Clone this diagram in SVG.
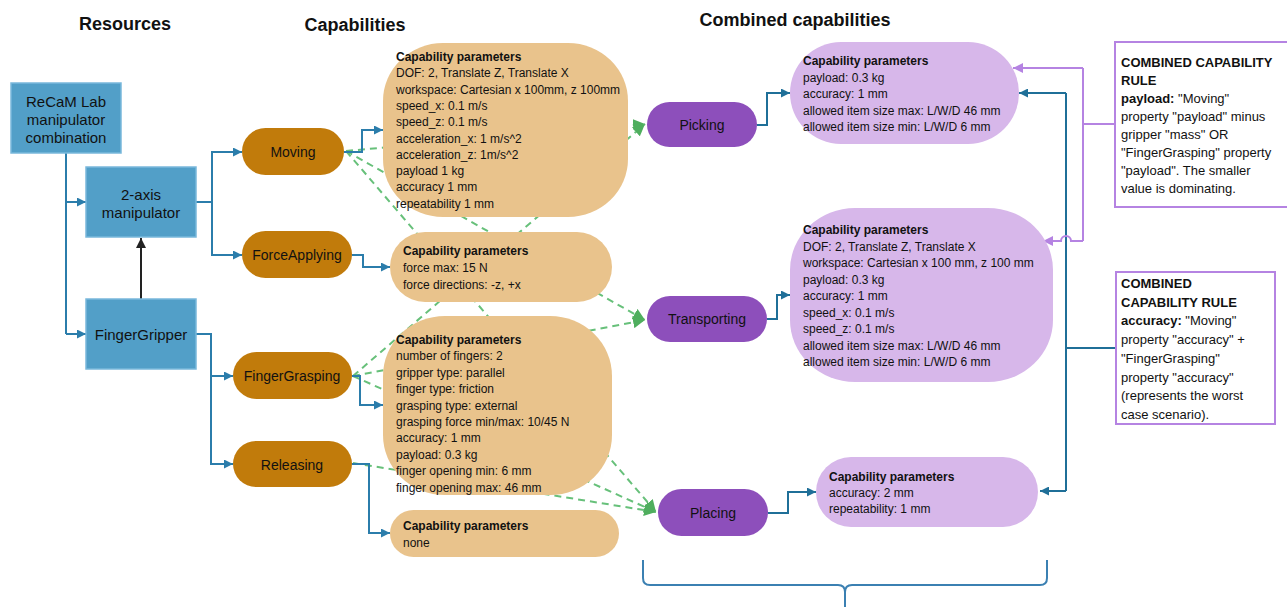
<svg xmlns="http://www.w3.org/2000/svg" width="1287" height="607" viewBox="0 0 1287 607">
<defs>
<style>
text{font-family:"Liberation Sans",Arial,sans-serif;fill:#111}
.title{font-size:18px;font-weight:bold}
.res{fill:#529fc8;stroke:#79b8db;stroke-width:1.5}
.rt{font-size:15px;text-anchor:middle}
.cap{fill:#c17b0b}
.ct{font-size:14px;text-anchor:middle}
.par{fill:#e9c38c}
.comb{fill:#8d4fbb}
.cpar{fill:#d7b7ea}
.pt{font-size:12px}
.hd{font-weight:bold}
.rule{fill:#fff;stroke:#b583e2;stroke-width:2}
.rl{font-size:13px}
.blue{fill:none;stroke:#2b7dab;stroke-width:2}
.teal{fill:none;stroke:#1f6f98;stroke-width:2}
.green{fill:none;stroke:#67c07a;stroke-width:2;stroke-dasharray:7 5}
.purp{fill:none;stroke:#b583e2;stroke-width:2}
</style>
<marker id="ab" viewBox="0 0 10 10" refX="10" refY="5" markerWidth="9" markerHeight="9" markerUnits="userSpaceOnUse" orient="auto"><path d="M0,0L10,5L0,10z" fill="#2b7dab"/></marker>
<marker id="at" viewBox="0 0 10 10" refX="10" refY="5" markerWidth="9" markerHeight="9" markerUnits="userSpaceOnUse" orient="auto"><path d="M0,0L10,5L0,10z" fill="#1f6f98"/></marker>
<marker id="ak" viewBox="0 0 10 10" refX="10" refY="5" markerWidth="10" markerHeight="10" markerUnits="userSpaceOnUse" orient="auto"><path d="M0,0L10,5L0,10z" fill="#222"/></marker>
<marker id="ag" viewBox="0 0 10 10" refX="10" refY="5" markerWidth="12" markerHeight="12" markerUnits="userSpaceOnUse" orient="auto"><path d="M0,0L10,5L0,10z" fill="#4fae5e"/></marker>
<marker id="ap" viewBox="0 0 10 10" refX="10" refY="5" markerWidth="10" markerHeight="10" markerUnits="userSpaceOnUse" orient="auto"><path d="M0,0L10,5L0,10z" fill="#b583e2"/></marker>
</defs>
<rect width="1287" height="607" fill="#fff"/>
<g id="titles">
<text class="title" x="125" y="30" text-anchor="middle">Resources</text>
<text class="title" x="355" y="31" text-anchor="middle">Capabilities</text>
<text class="title" x="795" y="26" text-anchor="middle">Combined capabilities</text>
</g>
<g id="connectors">
<path class="green" d="M346,151L645,124" marker-end="url(#ag)"/>
<path class="green" d="M346,151L645,320" marker-end="url(#ag)"/>
<path class="green" d="M346,151L656,512" marker-end="url(#ag)"/>
<path class="green" d="M353,376L645,124" marker-end="url(#ag)"/>
<path class="green" d="M353,376L645,320" marker-end="url(#ag)"/>
<path class="green" d="M353,376L656,512" marker-end="url(#ag)"/>
<path class="green" d="M353,463L656,512" marker-end="url(#ag)"/>
<path class="blue" d="M66,153V334"/>
<path class="blue" d="M66,202H86" marker-end="url(#ab)"/>
<path class="blue" d="M66,334H86" marker-end="url(#ab)"/>
<path d="M141,299V238" stroke="#222" stroke-width="2" fill="none" marker-end="url(#ak)"/>
<path class="blue" d="M196,202H212V152H242" marker-end="url(#ab)"/>
<path class="blue" d="M212,202V255H242" marker-end="url(#ab)"/>
<path class="blue" d="M196,334H211V376H233" marker-end="url(#ab)"/>
<path class="blue" d="M211,376V464H233" marker-end="url(#ab)"/>
<path class="blue" d="M344,152H362V130H383" marker-end="url(#ab)"/>
<path class="blue" d="M352,255H363V267H390" marker-end="url(#ab)"/>
<path class="blue" d="M352,376H360V405H383" marker-end="url(#ab)"/>
<path class="blue" d="M352,464H369V533H390" marker-end="url(#ab)"/>
<path class="teal" d="M757,125H767V93H790" marker-end="url(#at)"/>
<path class="teal" d="M767,319H777V295H790" marker-end="url(#at)"/>
<path class="teal" d="M768,513H788V492H816" marker-end="url(#at)"/>
<path class="teal" d="M1116,348H1066"/>
<path class="teal" d="M1066,93V491"/>
<path class="teal" d="M1066,93H1019" marker-end="url(#at)"/>
<path class="teal" d="M1066,491H1040" marker-end="url(#at)"/>
<path class="purp" d="M1115,124H1083"/>
<path class="purp" d="M1083,68V241"/>
<path class="purp" d="M1083,68H1013" marker-end="url(#ap)"/>
<path class="purp" d="M1083,241H1071A5,5 0 0 0 1061,241H1043" marker-end="url(#ap)"/>
<path d="M643,560V578Q643,585 650,585H838Q845,585 845,592V607M1047,560V578Q1047,585 1040,585H852Q845,585 845,592" fill="none" stroke="#3b80b2" stroke-width="2"/>
</g>
<g id="recam"><rect class="res" x="11" y="83" width="110" height="70"/>
<text class="rt" x="66" y="107">ReCaM Lab</text><text class="rt" x="66" y="125">manipulator</text><text class="rt" x="66" y="143">combination</text></g>
<g id="manip"><rect class="res" x="86" y="167" width="110" height="70"/>
<text class="rt" x="141" y="200">2-axis</text><text class="rt" x="141" y="218">manipulator</text></g>
<g id="gripper"><rect class="res" x="86" y="299" width="110" height="70"/>
<text class="rt" x="141" y="340">FingerGripper</text></g>
<g id="moving"><rect class="cap" x="242" y="128" width="102" height="47" rx="23.5"/><text class="ct" x="293" y="157">Moving</text></g>
<g id="forceapplying"><rect class="cap" x="242" y="231" width="110" height="47" rx="23.5"/><text class="ct" x="297" y="260">ForceApplying</text></g>
<g id="fingergrasping"><rect class="cap" x="233" y="352" width="119" height="47" rx="23.5"/><text class="ct" x="292" y="381">FingerGrasping</text></g>
<g id="releasing"><rect class="cap" x="233" y="441" width="119" height="46" rx="23"/><text class="ct" x="292" y="470">Releasing</text></g>
<g id="moving-params"><rect class="par" x="383" y="43" width="245" height="174" rx="60" ry="58"/>
<text class="pt" x="396" y="61"><tspan class="hd">Capability parameters</tspan><tspan x="396" dy="16.3">DOF: 2, Translate Z, Translate X</tspan><tspan x="396" dy="16.3">workspace: Cartesian x 100mm, z 100mm</tspan><tspan x="396" dy="16.3">speed_x: 0.1 m/s</tspan><tspan x="396" dy="16.3">speed_z: 0.1 m/s</tspan><tspan x="396" dy="16.3">acceleration_x: 1 m/s^2</tspan><tspan x="396" dy="16.3">acceleration_z: 1m/s^2</tspan><tspan x="396" dy="16.3">payload 1 kg</tspan><tspan x="396" dy="16.3">accuracy 1 mm</tspan><tspan x="396" dy="16.3">repeatability 1 mm</tspan></text></g>
<g id="force-params"><rect class="par" x="390" y="232" width="222" height="70" rx="35"/>
<text class="pt" x="403" y="255"><tspan class="hd">Capability parameters</tspan><tspan x="403" dy="17">force max: 15 N</tspan><tspan x="403" dy="17">force directions: -z, +x</tspan></text></g>
<g id="grasping-params"><rect class="par" x="383" y="316" width="229" height="179" rx="62" ry="60"/>
<text class="pt" x="396" y="344"><tspan class="hd">Capability parameters</tspan><tspan x="396" dy="16.4">number of fingers: 2</tspan><tspan x="396" dy="16.4">gripper type: parallel</tspan><tspan x="396" dy="16.4">finger type: friction</tspan><tspan x="396" dy="16.4">grasping type: external</tspan><tspan x="396" dy="16.4">grasping force min/max: 10/45 N</tspan><tspan x="396" dy="16.4">accuracy: 1 mm</tspan><tspan x="396" dy="16.4">payload: 0.3 kg</tspan><tspan x="396" dy="16.4">finger opening min: 6 mm</tspan><tspan x="396" dy="16.4">finger opening max: 46 mm</tspan></text></g>
<g id="releasing-params"><rect class="par" x="390" y="510" width="229" height="47" rx="23.5"/>
<text class="pt" x="403" y="530"><tspan class="hd">Capability parameters</tspan><tspan x="403" dy="17">none</tspan></text></g>
<g id="picking"><rect class="comb" x="647" y="102" width="110" height="45" rx="22.5"/><text class="ct" x="702" y="130">Picking</text></g>
<g id="transporting"><rect class="comb" x="647" y="296" width="120" height="46" rx="23"/><text class="ct" x="707" y="324">Transporting</text></g>
<g id="placing"><rect class="comb" x="658" y="489" width="110" height="47" rx="23.5"/><text class="ct" x="713" y="518">Placing</text></g>
<g id="picking-params"><rect class="cpar" x="790" y="42" width="229" height="102" rx="51"/>
<text class="pt" x="803" y="65"><tspan class="hd">Capability parameters</tspan><tspan x="803" dy="16.5">payload: 0.3 kg</tspan><tspan x="803" dy="16.5">accuracy: 1 mm</tspan><tspan x="803" dy="16.5">allowed item size max: L/W/D 46 mm</tspan><tspan x="803" dy="16.5">allowed item size min: L/W/D 6 mm</tspan></text></g>
<g id="transporting-params"><rect class="cpar" x="790" y="208" width="263" height="174" rx="65" ry="62"/>
<text class="pt" x="803" y="234"><tspan class="hd">Capability parameters</tspan><tspan x="803" dy="16.5">DOF: 2, Translate Z, Translate X</tspan><tspan x="803" dy="16.5">workspace: Cartesian x 100 mm, z 100 mm</tspan><tspan x="803" dy="16.5">payload: 0.3 kg</tspan><tspan x="803" dy="16.5">accuracy: 1 mm</tspan><tspan x="803" dy="16.5">speed_x: 0.1 m/s</tspan><tspan x="803" dy="16.5">speed_z: 0.1 m/s</tspan><tspan x="803" dy="16.5">allowed item size max: L/W/D 46 mm</tspan><tspan x="803" dy="16.5">allowed item size min: L/W/D 6 mm</tspan></text></g>
<g id="placing-params"><rect class="cpar" x="816" y="457" width="222" height="70" rx="35"/>
<text class="pt" x="829" y="481"><tspan class="hd">Capability parameters</tspan><tspan x="829" dy="16">accuracy: 2 mm</tspan><tspan x="829" dy="16">repeatability: 1 mm</tspan></text></g>
<g id="rule-payload"><rect class="rule" x="1115" y="42" width="180" height="165"/>
<text class="rl" x="1121" y="67"><tspan class="hd">COMBINED CAPABILITY</tspan><tspan x="1121" dy="18" class="hd">RULE</tspan><tspan x="1121" dy="18"><tspan class="hd">payload:</tspan> "Moving"</tspan><tspan x="1121" dy="18">property "payload" minus</tspan><tspan x="1121" dy="18">gripper "mass" OR</tspan><tspan x="1121" dy="18">"FingerGrasping" property</tspan><tspan x="1121" dy="18">"payload". The smaller</tspan><tspan x="1121" dy="18">value is dominating.</tspan></text></g>
<g id="rule-accuracy"><rect class="rule" x="1116" y="272" width="159" height="152"/>
<text class="rl" x="1121" y="288"><tspan class="hd">COMBINED</tspan><tspan x="1121" dy="18.7" class="hd">CAPABILITY RULE</tspan><tspan x="1121" dy="18.7"><tspan class="hd">accuracy:</tspan> "Moving"</tspan><tspan x="1121" dy="18.7">property "accuracy" +</tspan><tspan x="1121" dy="18.7">"FingerGrasping"</tspan><tspan x="1121" dy="18.7">property "accuracy"</tspan><tspan x="1121" dy="18.7">(represents the worst</tspan><tspan x="1121" dy="18.7">case scenario).</tspan></text></g>
</svg>
